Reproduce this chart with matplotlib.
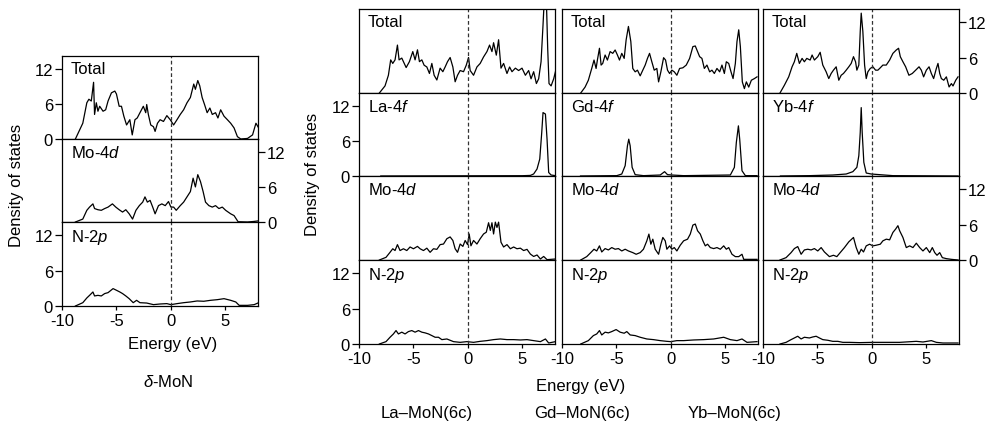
import matplotlib

matplotlib.use("Agg")
import matplotlib.pyplot as plt

plt.rcParams["font.family"] = ["Liberation Sans", "DejaVu Sans"]
plt.rcParams["mathtext.fontset"] = "custom"
plt.rcParams["mathtext.rm"] = "Liberation Sans"
plt.rcParams["mathtext.it"] = "Liberation Sans:italic"
plt.rcParams["axes.unicode_minus"] = False
plt.rcParams["font.size"] = 12

# ---- delta-MoN -------------------------------------------------------------
MON_TOT_E = [-8.77, -8.09, -7.72, -7.53, -7.31, -7.10, -7.01, -6.85, -6.70, -6.54, -6.23, -5.99, -5.77,
             -5.46, -5.15, -5.00, -4.75, -4.54, -4.32, -4.07, -3.77, -3.55, -3.30, -3.09, -2.84, -2.53,
             -2.31, -2.22, -2.07, -1.85, -1.60, -1.45, -1.23, -0.99, -0.68, -0.37, -0.06, 0.25, 0.56,
             0.86, 1.17, 1.48, 1.79, 2.10, 2.25, 2.47, 2.65, 2.87, 3.09, 3.33, 3.58, 3.80, 4.10, 4.32,
             4.57, 4.88, 5.19, 5.49, 5.80, 6.11, 6.42, 7.04, 7.50, 7.81, 8.06]
MON_TOT = [0, 2.7, 6.2, 6.8, 6.5, 9.7, 4.2, 6.2, 4.75, 5.6, 4.75, 5.0, 6.5, 7.9, 8.2, 7.7, 5.6, 5.6, 3.9,
           2.4, 3.3, 0.7, 3.3, 3.6, 4.5, 5.6, 4.5, 5.9, 4.2, 2.4, 2.1, 1.3, 2.7, 3.3, 3.0, 4.0, 3.3, 2.4,
           3.3, 4.2, 5.0, 6.2, 7.1, 9.4, 8.5, 10.0, 9.1, 7.1, 5.9, 4.5, 5.3, 4.2, 4.5, 3.6, 5.0, 3.9,
           3.3, 2.7, 1.9, 0.4, 0, 0.1, 0.7, 2.7, 1.9]
MON_MO_E = [-8.77, -8.09, -7.72, -7.47, -7.16, -7.01, -6.70, -6.39, -6.08, -5.77, -5.37, -5.06, -4.75,
            -4.44, -4.14, -3.83, -3.52, -3.21, -2.90, -2.59, -2.38, -2.16, -1.91, -1.67, -1.45, -1.14,
            -0.83, -0.52, -0.22, 0.0, 0.25, 0.49, 0.86, 1.17, 1.48, 1.79, 2.04, 2.25, 2.47, 2.72, 2.96,
            3.18, 3.49, 3.80, 4.10, 4.41, 4.72, 5.03, 5.49, 5.80, 6.17, 7.04, 7.65, 8.06]
MON_MO = [0, 0.5, 2.0, 2.55, 3.1, 2.3, 2.1, 2.0, 2.3, 2.55, 3.1, 2.55, 2.1, 1.7, 2.1, 1.4, 0.5, 2.0, 2.8,
          3.4, 4.3, 3.4, 3.7, 2.55, 1.4, 2.8, 3.1, 2.8, 3.5, 2.55, 2.55, 2.0, 2.8, 3.4, 4.3, 5.2, 7.5,
          6.0, 8.1, 6.9, 5.2, 3.4, 2.8, 2.55, 2.8, 2.3, 2.55, 2.0, 1.4, 1.1, 0.05, 0, 0.1, 0.2]
MON_N_E = [-8.77, -8.09, -7.72, -7.47, -7.16, -7.01, -6.70, -6.39, -6.08, -5.77, -5.31, -5.00, -4.69,
           -4.44, -4.14, -3.83, -3.46, -3.15, -2.84, -2.22, -1.60, -0.99, -0.37, 0.0, 0.56, 1.17, 1.79,
           2.41, 3.02, 3.64, 4.26, 4.88, 5.49, 5.96, 6.27, 7.04, 7.65, 8.06]
MON_N = [0, 0.56, 1.36, 1.8, 2.37, 1.7, 1.8, 1.7, 2.1, 2.26, 2.94, 2.66, 2.37, 2.1, 1.7, 1.24, 0.56,
         0.96, 0.56, 0.5, 0.23, 0.34, 0.4, 0.23, 0.4, 0.56, 0.68, 0.85, 0.8, 0.96, 1.07, 1.24, 0.96,
         0.68, 0.11, 0.11, 0.23, 0.56]

# ---- La-MoN(6c) ------------------------------------------------------------
LA_TOT_E = [-8.13, -7.61, -7.30, -7.09, -6.90, -6.69, -6.47, -6.32, -6.07, -5.67, -5.37, -5.06, -4.85,
            -4.63, -4.45, -4.23, -4.02, -3.77, -3.53, -3.31, -3.10, -2.85, -2.55, -2.30, -2.09, -1.87,
            -1.63, -1.38, -1.17, -0.95, -0.71, -0.40, -0.15, 0.06, 0.21, 0.52, 0.83, 1.13, 1.44, 1.75,
            1.99, 2.21, 2.36, 2.61, 2.82, 3.04, 3.28, 3.59, 3.83, 4.05, 4.36, 4.66, 4.97, 5.28, 5.58,
            5.80, 6.04, 6.29, 6.50, 6.72, 6.90, 7.02, 7.21, 7.33, 7.45, 7.64, 7.88, 8.04]
LA_TOT = [0, 1.2, 3.0, 5.6, 5.0, 5.6, 8.1, 5.6, 5.9, 4.3, 5.3, 7.0, 5.6, 7.3, 5.3, 5.6, 4.7, 4.4, 3.3,
          5.0, 3.0, 2.2, 4.2, 3.6, 4.4, 5.3, 6.0, 4.4, 1.9, 3.0, 3.8, 3.6, 4.7, 6.0, 3.8, 3.0, 4.4, 5.0,
          6.1, 7.0, 8.1, 7.0, 8.5, 6.4, 9.0, 4.2, 5.0, 3.3, 4.4, 3.6, 4.2, 3.8, 4.2, 3.0, 3.8, 2.4, 3.6,
          1.6, 2.4, 5.3, 11.5, 16.0, 15.5, 7.5, 1.6, 1.2, 2.4, 3.6]
LA_F_E = [-8.0, 5.0, 5.74, 6.04, 6.35, 6.6, 6.78, 6.9, 7.12, 7.27, 7.42, 7.64, 8.04]
LA_F = [0, 0.05, 0.1, 0.35, 1.2, 2.9, 7.4, 10.85, 10.6, 6.3, 0.6, 0.17, 0.06]
LA_MO_E = [-8.13, -7.52, -7.15, -6.90, -6.69, -6.47, -6.23, -5.92, -5.61, -5.31, -5.00, -4.63, -4.39,
           -4.08, -3.77, -3.47, -3.16, -2.85, -2.55, -2.24, -1.93, -1.63, -1.38, -1.17, -0.95, -0.71,
           -0.46, -0.25, -0.03, 0.12, 0.28, 0.52, 0.83, 1.13, 1.44, 1.69, 1.90, 2.06, 2.21, 2.36, 2.52,
           2.67, 2.82, 3.04, 3.28, 3.59, 3.90, 4.20, 4.51, 4.82, 5.12, 5.43, 5.74, 6.04, 6.35, 6.66,
           6.96, 7.27, 8.04]
LA_MO = [0, 0.45, 1.3, 1.9, 1.6, 2.6, 1.6, 1.9, 1.6, 2.2, 1.9, 2.3, 1.9, 1.6, 2.0, 1.3, 1.9, 1.8, 2.6,
         2.7, 3.6, 3.9, 3.3, 1.9, 1.3, 2.7, 2.3, 3.3, 2.6, 4.4, 2.4, 3.3, 2.7, 3.6, 4.4, 4.7, 6.3, 5.0,
         6.3, 4.4, 6.4, 5.5, 6.4, 3.0, 2.2, 2.6, 1.9, 2.2, 1.9, 2.0, 1.6, 1.8, 1.0, 0.6, 0.85, 0.17,
         0.6, 0.06, 0.17]
LA_N_E = [-8.13, -7.52, -7.15, -6.84, -6.60, -6.38, -6.07, -5.77, -5.46, -5.15, -4.85, -4.54, -4.23,
          -3.93, -3.62, -3.31, -3.01, -2.70, -2.39, -1.93, -1.32, -0.71, -0.09, 0.52, 1.13, 1.75, 2.36,
          2.98, 3.59, 4.20, 4.82, 5.43, 6.04, 6.66, 7.12, 7.42, 8.04]
LA_N = [0, 0.4, 1.14, 1.7, 2.27, 1.7, 2.0, 1.7, 2.1, 2.27, 2.0, 2.27, 2.0, 1.88, 1.7, 1.42, 1.14, 1.14,
        0.74, 0.85, 0.4, 0.28, 0.4, 0.28, 0.45, 0.57, 0.74, 0.85, 0.74, 0.74, 0.68, 0.74, 0.57, 0.4,
        0.85, 0.17, 0.4]

# ---- Gd-MoN(6c) ------------------------------------------------------------
GD_TOT_E = [-8.28, -7.88, -7.58, -7.27, -7.06, -6.87, -6.75, -6.56, -6.41, -6.26, -6.04, -5.83, -5.58,
            -5.34, -5.12, -4.91, -4.72, -4.51, -4.29, -4.11, -3.90, -3.68, -3.50, -3.28, -3.07, -2.82,
            -2.58, -2.36, -2.15, -1.96, -1.75, -1.53, -1.29, -1.13, -0.92, -0.67, -0.49, -0.31, -0.12,
            0.09, 0.31, 0.55, 0.80, 1.10, 1.41, 1.72, 2.02, 2.24, 2.45, 2.64, 2.85, 3.07, 3.31, 3.56,
            3.77, 3.99, 4.23, 4.48, 4.69, 4.91, 5.09, 5.31, 5.52, 5.71, 5.92, 6.07, 6.23, 6.38, 6.56,
            6.75, 6.93, 7.15, 7.39, 7.67, 7.91]
GD_TOT = [0, 1.0, 2.16, 4.15, 5.57, 4.15, 5.57, 7.56, 4.72, 5.0, 6.42, 5.57, 7.0, 6.7, 7.27, 6.42, 5.57,
          6.7, 5.85, 8.98, 11.25, 8.7, 4.15, 3.58, 3.86, 2.9, 3.86, 4.72, 5.85, 6.7, 5.28, 3.86, 4.15,
          1.88, 3.58, 5.97, 5.57, 3.86, 3.3, 3.86, 3.58, 3.0, 4.15, 4.26, 4.72, 5.85, 7.84, 7.95, 7.0,
          6.14, 5.85, 4.15, 4.72, 3.58, 3.86, 3.3, 4.15, 3.58, 4.72, 3.3, 5.28, 5.0, 3.58, 2.44, 5.0,
          8.7, 10.68, 7.84, 1.88, 0.74, 1.88, 1.0, 2.16, 2.44, 2.73]
GD_F_E = [-8.3, -4.97, -4.51, -4.20, -3.99, -3.87, -3.74, -3.56, -3.28, -2.52, -0.98, -0.58, -0.31,
          0.09, 1.17, 5.46, 5.83, 6.01, 6.20, 6.32, 6.53, 6.84, 7.91]
GD_F = [0, 0.06, 0.34, 1.76, 5.17, 6.3, 5.17, 1.48, 0.23, 0.06, 0.17, 0.74, 0.23, 0.17, 0.06, 0.17,
        1.48, 5.74, 8.58, 6.3, 0.9, 0.06, 0.06]
GD_MO_E = [-8.28, -7.73, -7.36, -7.06, -6.81, -6.56, -6.35, -6.04, -5.74, -5.43, -5.12, -4.82, -4.51,
           -4.20, -3.90, -3.50, -3.19, -2.82, -2.52, -2.21, -2.02, -1.84, -1.66, -1.44, -1.13, -0.92,
           -0.74, -0.52, -0.37, -0.12, 0.09, 0.31, 0.55, 0.86, 1.17, 1.53, 1.78, 2.02, 2.24, 2.45, 2.70,
           2.94, 3.16, 3.37, 3.62, 3.93, 4.23, 4.54, 4.85, 5.09, 5.31, 5.61, 5.92, 6.23, 6.53, 6.69,
           7.30, 7.91]
GD_MO = [0, 0.57, 1.25, 1.82, 1.53, 2.39, 1.36, 1.93, 1.7, 2.1, 1.82, 1.93, 1.53, 1.82, 1.53, 1.25,
         0.97, 1.25, 1.82, 3.24, 4.38, 2.67, 3.52, 1.82, 0.97, 2.67, 3.81, 3.24, 1.82, 2.39, 1.82, 2.1,
         1.53, 2.5, 3.24, 3.52, 4.38, 5.9, 6.08, 4.94, 4.38, 3.24, 2.39, 2.67, 2.1, 1.93, 2.1, 1.82,
         2.39, 1.82, 2.1, 0.97, 0.57, 0.57, 0.97, 0.11, 0.11, 0.11]
GD_N_E = [-8.28, -7.58, -7.12, -6.81, -6.56, -6.35, -6.04, -5.74, -5.43, -5.03, -4.66, -4.29, -4.05,
          -3.74, -3.28, -2.82, -2.21, -1.60, -0.98, -0.37, 0.0, 0.55, 1.17, 2.09, 3.01, 3.93, 4.85,
          5.46, 6.07, 6.53, 6.99, 7.91]
GD_N = [0, 0.57, 1.42, 1.7, 2.27, 1.53, 2.0, 1.88, 2.1, 2.44, 2.0, 1.82, 2.1, 1.53, 1.42, 1.14, 0.85,
        0.74, 0.57, 0.45, 0.4, 0.57, 0.57, 0.68, 0.74, 0.85, 1.14, 0.74, 0.57, 0.85, 0.28, 0.4]

# ---- Yb-MoN(6c) ------------------------------------------------------------
YB_TOT_E = [-8.44, -8.04, -7.64, -7.33, -7.12, -6.90, -6.66, -6.41, -6.20, -5.98, -5.67, -5.49, -5.28,
            -4.97, -4.75, -4.51, -4.20, -3.96, -3.74, -3.53, -3.28, -3.04, -2.82, -2.61, -2.36, -2.12,
            -1.90, -1.69, -1.50, -1.38, -1.20, -1.07, -0.98, -0.83, -0.67, -0.52, -0.37, -0.15, 0.09,
            0.34, 0.55, 0.77, 1.01, 1.32, 1.63, 1.93, 2.24, 2.45, 2.61, 2.85, 3.10, 3.40, 3.71, 4.02,
            4.33, 4.54, 4.75, 5.00, 5.25, 5.46, 5.67, 5.92, 6.07, 6.23, 6.38, 6.60, 6.84, 7.09, 7.30,
            7.45, 7.70, 7.91]
YB_TOT = [0, 1.3, 2.73, 4.43, 5.28, 6.7, 5.0, 5.85, 5.28, 5.85, 5.57, 6.42, 5.57, 6.14, 6.88, 4.72,
          3.58, 2.44, 3.3, 3.86, 4.43, 2.16, 3.0, 3.3, 3.86, 4.43, 5.0, 6.14, 5.28, 3.86, 4.72, 10.4,
          13.5, 10.4, 4.72, 2.44, 3.58, 4.15, 4.43, 3.86, 3.86, 4.26, 4.72, 4.72, 5.57, 6.7, 7.27, 7.56,
          6.14, 5.28, 4.43, 3.0, 3.3, 3.86, 4.43, 3.86, 2.73, 3.86, 4.43, 3.3, 2.44, 4.15, 5.0, 3.3,
          2.44, 2.16, 2.73, 1.02, 1.59, 1.19, 2.16, 2.73]
YB_F_E = [-8.4, -5.74, -3.59, -2.36, -1.75, -1.38, -1.20, -1.07, -0.98, -0.89, -0.74, -0.52, -0.06,
          0.71, 1.93, 7.91]
YB_F = [0, 0.06, 0.17, 0.34, 0.74, 1.48, 3.47, 7.44, 11.7, 7.44, 2.33, 0.51, 0.34, 0.23, 0.06, 0]
YB_MO_E = [-8.44, -7.88, -7.42, -7.12, -6.81, -6.50, -6.20, -5.89, -5.58, -5.28, -4.97, -4.66, -4.36,
           -3.90, -3.53, -3.22, -2.91, -2.52, -2.12, -1.69, -1.44, -1.20, -0.98, -0.77, -0.52, -0.21,
           0.09, 0.40, 0.77, 1.01, 1.32, 1.63, 1.93, 2.18, 2.39, 2.55, 2.85, 3.16, 3.47, 3.77, 4.08,
           4.39, 4.69, 5.00, 5.31, 5.55, 5.77, 5.98, 6.23, 6.47, 6.84, 7.30, 7.91]
YB_MO = [0, 0.4, 1.25, 1.93, 2.27, 0.97, 1.7, 1.82, 1.7, 1.93, 1.53, 2.1, 1.36, 0.57, 0.8, 0.57, 1.25,
         2.1, 3.07, 3.81, 2.1, 0.97, 1.82, 1.36, 2.39, 2.67, 2.39, 2.5, 2.67, 3.24, 3.52, 3.41, 4.66,
         5.23, 5.8, 4.94, 3.81, 2.1, 2.39, 2.1, 2.84, 2.1, 1.53, 2.1, 1.25, 2.1, 1.25, 0.8, 1.25, 0.4,
         0.23, 0.11, 0]
YB_N_E = [-8.44, -7.88, -7.42, -7.12, -6.81, -6.50, -6.20, -5.74, -5.43, -5.12, -4.82, -4.51, -4.05,
          -3.59, -3.13, -2.67, -2.06, -1.13, 0.09, 1.01, 2.55, 4.08, 4.69, 5.46, 5.92, 6.53, 7.91]
YB_N = [0, 0.28, 0.74, 1.02, 1.31, 0.85, 1.14, 1.02, 1.19, 1.31, 1.02, 0.74, 0.63, 0.45, 0.45, 0.28,
        0.28, 0.23, 0.28, 0.28, 0.28, 0.45, 0.34, 0.57, 0.28, 0.17, 0.17]

W, H = 987, 427


def add_ax(fig, x0, y0, x1, y1):
    """Axes from pixel box (x0, y0 top) -> (x1, y1 bottom)."""
    return fig.add_axes([x0 / W, 1 - y1 / H, (x1 - x0) / W, (y1 - y0) / H])


def panel(ax, e, dos, label, left=False, right=False, bottom=False):
    ax.plot(e, dos, color="k", lw=0.9)
    ax.axvline(0, color="0.2", ls=(0, (3, 2)), lw=0.9)
    ax.set_xlim(-10, 8)
    ax.set_ylim(0, 14.2)
    ax.set_xticks([-10, -5, 0, 5])
    ax.set_yticks([0, 6, 12])
    ax.tick_params(axis="y", direction="out", length=5, width=0.9, pad=1.5, labelsize=12,
                   left=left, labelleft=left, right=right, labelright=right)
    ax.tick_params(axis="x", direction="out", length=3, width=0.9, pad=2, labelsize=12,
                   bottom=bottom, labelbottom=bottom, top=False)
    for s in ax.spines.values():
        s.set_linewidth(0.9)
    ax.text(0.045, 0.94, label, transform=ax.transAxes, ha="left", va="top", fontsize=12)


fig = plt.figure(figsize=(W / 100, H / 100), dpi=100)

# left group: delta-MoN
rows_l = [57, 140, 223, 307]
for i, (e, d, lab) in enumerate([(MON_TOT_E, MON_TOT, "Total"),
                                 (MON_MO_E, MON_MO, "Mo-4$d$"),
                                 (MON_N_E, MON_N, "N-2$p$")]):
    ax = add_ax(fig, 62, rows_l[i], 258, rows_l[i + 1])
    panel(ax, e, d, lab, left=(i != 1), right=(i == 1), bottom=(i == 2))

# right group: La / Gd / Yb
cols = [(359, 555), (562, 758), (763, 959)]
rows_r = [10, 94, 177, 261, 345]
systems = [
    [(LA_TOT_E, LA_TOT, "Total"), (LA_F_E, LA_F, "La-4$f$"),
     (LA_MO_E, LA_MO, "Mo-4$d$"), (LA_N_E, LA_N, "N-2$p$")],
    [(GD_TOT_E, GD_TOT, "Total"), (GD_F_E, GD_F, "Gd-4$f$"),
     (GD_MO_E, GD_MO, "Mo-4$d$"), (GD_N_E, GD_N, "N-2$p$")],
    [(YB_TOT_E, YB_TOT, "Total"), (YB_F_E, YB_F, "Yb-4$f$"),
     (YB_MO_E, YB_MO, "Mo-4$d$"), (YB_N_E, YB_N, "N-2$p$")],
]
for c, (x0, x1) in enumerate(cols):
    for r, (e, d, lab) in enumerate(systems[c]):
        ax = add_ax(fig, x0, rows_r[r], x1, rows_r[r + 1])
        panel(ax, e, d, lab,
              left=(c == 0 and r in (1, 3)),
              right=(c == 2 and r in (0, 2)),
              bottom=(r == 3))

# shared labels
fig.text(17 / W, 1 - 185 / H, "Density of states", rotation=90, ha="center", va="center")
fig.text(313 / W, 1 - 174 / H, "Density of states", rotation=90, ha="center", va="center")
fig.text(173 / W, 1 - 345 / H, "Energy (eV)", ha="center", va="center")
fig.text(581 / W, 1 - 387 / H, "Energy (eV)", ha="center", va="center")
fig.text(168 / W, 1 - 382 / H, r"$\delta$-MoN", ha="center", va="center")
for xc, name in [(427, "La–MoN(6c)"), (582, "Gd–MoN(6c)"), (735, "Yb–MoN(6c)")]:
    fig.text(xc / W, 1 - 414 / H, name, ha="center", va="center")

fig.savefig("out.png", dpi=100)
